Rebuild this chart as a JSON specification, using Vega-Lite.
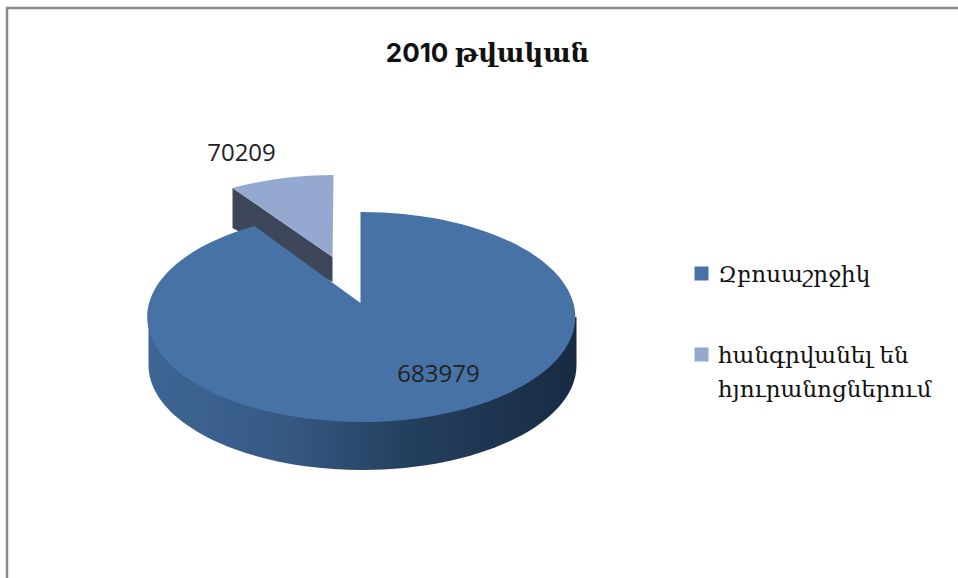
{
 "$schema":"https://vega.github.io/schema/vega-lite/v6.json",
 "autosize":{"type":"none"},
 "padding":{"left":7,"top":8,"right":0,"bottom":0},
 "width":953,"height":572,
 "background":"white",
 "view":{"stroke":"#8a8a8a","strokeWidth":2.5,"fill":"white"},
 "title":{"text":"2010 թվական","font":"Inter, DejaVu Serif","fontSize":26,"fontWeight":"bold","color":"#111111","anchor":"middle","offset":-59,"dx":4},
 "data":{"values":[
  {"category":"Զբոսաշրջիկ","value":683979},
  {"category":"հանգրվանել են հյուրանոցներում","value":70209}
 ]},
 "encoding":{
  "color":{"field":"category","type":"nominal",
     "scale":{"domain":["Զբոսաշրջիկ","հանգրվանել են հյուրանոցներում"],"range":["#4672A6","#94A8D0"]},
     "legend":{"title":null,"orient":"none","legendX":683,"legendY":254,"symbolType":"square","symbolSize":196,"symbolStrokeWidth":0,
      "labelFont":"DejaVu Serif","labelFontSize":23,"labelColor":"#111111","labelLimit":300,"labelOffset":5,"rowPadding":56,
      "labelExpr":"datum.label=='Զբոսաշրջիկ'?datum.label:['հանգրվանել են','\u2009\u2009հյուրանոցներում']",
      "encoding":{"labels":{"lineHeight":{"value":34},"dy":{"value":1}}}}}
 },
 "layer":[
  {"transform":[{"filter":"datum.value==70209"}],
   "mark":{"type":"point","filled":true,"opacity":1,"size":4,"stroke":null,
    "shape":"M-251 -106 L-151 -37 L-151 -12 L-251 -66 Z"},
   "encoding":{"color":{"value":"#3C4658"}}},
  {"transform":[{"filter":"datum.value==683979"}],
   "mark":{"type":"point","filled":true,"opacity":1,"size":4,"stroke":null,
    "shape":"M93 23 L-335 23 L-335 71 A214 105 0 0 0 93 71 Z"},
   "encoding":{"color":{"value":{"gradient":"linear","x1":0,"y1":0,"x2":1,"y2":0,"stops":[{"offset":0,"color":"#3E6594"},{"offset":0.3,"color":"#375A85"},{"offset":0.6,"color":"#24405F"},{"offset":1,"color":"#182A42"}]}}}},
  {"transform":[{"filter":"datum.value==70209"}],
   "mark":{"type":"point","filled":true,"opacity":1,"size":4,"stroke":null,
    "shape":"M-151 -37 L-150 -119 A214 105 0 0 0 -251 -106 Z"}},
  {"transform":[{"filter":"datum.value==683979"}],
   "mark":{"type":"point","filled":true,"opacity":1,"size":4,"stroke":null,
    "shape":"M-123 9 L-123 -82 A214 105 0 1 1 -229 -68 Z"}},
  {"transform":[{"filter":"datum.value==70209"}],
   "mark":{"type":"text","font":"Open Sans","fontSize":24,"xOffset":-242,"yOffset":-140,"baseline":"middle"},
   "encoding":{"color":{"value":"#222222"},"text":{"field":"value","type":"quantitative","format":"d"}}},
  {"transform":[{"filter":"datum.value==683979"}],
   "mark":{"type":"text","font":"Open Sans","fontSize":24,"xOffset":-45,"yOffset":81,"baseline":"middle"},
   "encoding":{"color":{"value":"#222222"},"text":{"field":"value","type":"quantitative","format":"d"}}}
 ]
}
